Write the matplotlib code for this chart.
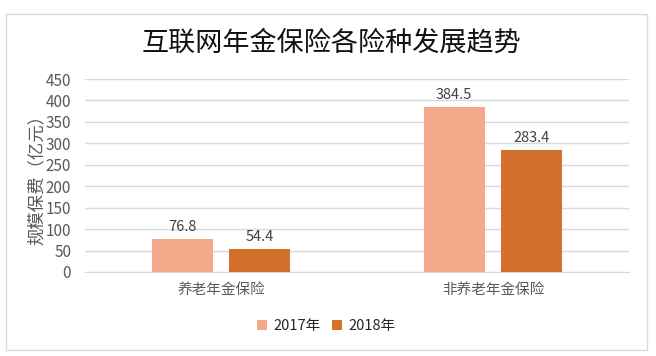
import matplotlib

matplotlib.use("Agg")
import matplotlib.pyplot as plt
from matplotlib.patches import Rectangle
import numpy as np

plt.rcParams["font.family"] = ["Noto Sans CJK SC", "DejaVu Sans"]

categories = ["养老年金保险", "非养老年金保险"]
series = ["2017年", "2018年"]
values_2017 = [76.8, 384.5]
values_2018 = [54.4, 283.4]
colors = ["#F4AA8A", "#D4702C"]

fig = plt.figure(figsize=(6.56, 3.56), dpi=100)
ax = fig.add_axes([85 / 656, 84 / 356, 544 / 656, 193 / 356])

# outer chart frame
fig.patches.append(Rectangle((6 / 656, 6 / 356), 641 / 656, 336 / 356,
                             transform=fig.transFigure, fill=False,
                             edgecolor="#D9D9D9", lw=1))

x = np.arange(len(categories))
w = 0.224
off = 0.143
for vals, dx, c, lab in [(values_2017, -off, colors[0], series[0]),
                         (values_2018, off, colors[1], series[1])]:
    bars = ax.bar(x + dx, vals, w, color=c, label=lab, zorder=3)
    for b, v in zip(bars, vals):
        ax.text(b.get_x() + b.get_width() / 2, v + 12, f"{v}",
                ha="center", va="bottom", fontsize=10.5, color="#404040")

ax.set_xlim(-0.5, 1.5)
ax.set_ylim(0, 450)
ax.set_yticks(range(0, 451, 50))
ax.yaxis.grid(True, color="#D9D9D9", lw=1, zorder=0)
for s in ["top", "right", "left"]:
    ax.spines[s].set_visible(False)
ax.spines["bottom"].set_color("#D9D9D9")
ax.tick_params(axis="both", length=0, colors="#595959", labelsize=11)
ax.tick_params(axis="y", pad=10)
ax.set_xticks(x)
ax.set_xticklabels(categories, fontsize=10.5)
ax.tick_params(axis="x", pad=8)
ax.set_ylabel("规模保费（亿元）", fontsize=12.5, color="#595959", labelpad=0)

fig.text(0.505, 0.88, "互联网年金保险各险种发展趋势", ha="center", va="center",
         fontsize=19.5, color="#111111")

fig.legend(loc="center", bbox_to_anchor=(0.497, 0.083), ncol=2, frameon=False,
           fontsize=10.5, handlelength=0.7, handleheight=0.7, handletextpad=0.4,
           columnspacing=0.8, labelcolor="#262626")

fig.savefig("out.png", dpi=100)
